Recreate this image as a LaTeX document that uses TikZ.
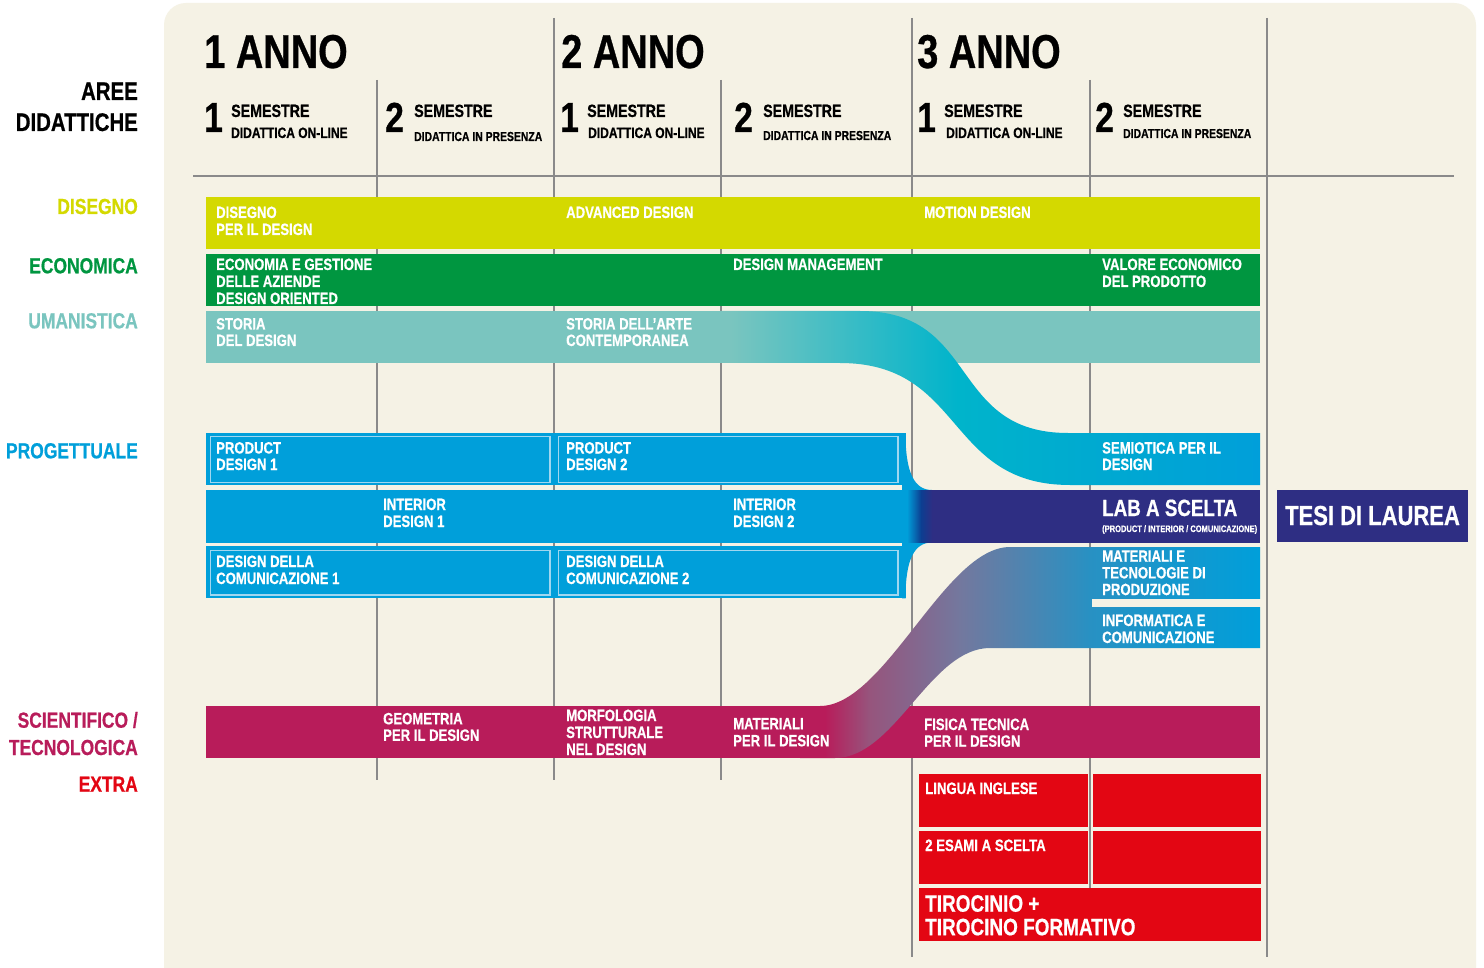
\documentclass[tikz,border=0pt]{standalone}
\usepackage{fontspec}
\setmainfont{Liberation Sans}[FakeStretch=0.8, BoldFeatures={FakeBold=0.6}]
\definecolor{bg}{RGB}{245,242,229}
\definecolor{gridc}{RGB}{138,138,138}
\definecolor{cyel}{RGB}{212,217,0}
\definecolor{cgrn}{RGB}{0,150,64}
\definecolor{cteal}{RGB}{122,197,191}
\definecolor{cblue}{RGB}{0,159,218}
\definecolor{cpurp}{RGB}{46,46,131}
\definecolor{cmag}{RGB}{184,28,90}
\definecolor{cred}{RGB}{227,6,19}
\definecolor{cbox}{RGB}{160,215,240}
\definecolor{ccyanA}{RGB}{0,180,203}
\definecolor{ccyanB}{RGB}{0,170,208}
\definecolor{cmA}{RGB}{150,85,125}
\definecolor{cmB}{RGB}{115,120,158}
\definecolor{cmC}{RGB}{40,145,195}
\definecolor{cnavy}{RGB}{12,62,145}
\pgfdeclarehorizontalshading{tealflow}{100bp}{color(0bp)=(cteal); color(25bp)=(cteal); color(26bp)=(cteal); color(47bp)=(ccyanA); color(59bp)=(ccyanB); color(75bp)=(cblue); color(100bp)=(cblue)}
\pgfdeclarehorizontalshading{magflow}{100bp}{color(0bp)=(cmag); color(25bp)=(cmag); color(27.7bp)=(cmag); color(32.6bp)=(cmA); color(42.4bp)=(cmB); color(56.5bp)=(cmC); color(75bp)=(cblue); color(100bp)=(cblue)}
\pgfdeclarehorizontalshading{labflow}{100bp}{color(0bp)=(cblue); color(25bp)=(cblue); color(50bp)=(cnavy); color(70bp)=(cpurp); color(75bp)=(cpurp); color(100bp)=(cpurp)}
\newcommand{\ml}[1]{\begin{tabular}[t]{@{}l@{}}#1\end{tabular}}
\begin{document}
\begin{tikzpicture}[x=1pt,y=-1pt,
  txt/.style={anchor=base west, inner sep=0pt, text=white, font=\bfseries\fontsize{16.4}{#1}\selectfont},
  txt/.default=17,
  area/.style={anchor=base east, inner sep=0pt, font=\bfseries\fontsize{21.8}{26}\selectfont},
  yr/.style={anchor=base west, inner sep=0pt, font=\bfseries\fontsize{47.5}{48}\selectfont},
  dig/.style={anchor=base west, inner sep=0pt, font=\bfseries\fontsize{42}{42}\selectfont},
  sem/.style={anchor=base west, inner sep=0pt, font=\bfseries\fontsize{17.8}{18}\selectfont},
  did/.style={anchor=base west, inner sep=0pt, font=\bfseries\fontsize{15}{15}\selectfont},
  didp/.style={anchor=base west, inner sep=0pt, font=\bfseries\fontsize{13}{13}\selectfont},
  gridline/.style={draw=gridc, line width=1.5pt},
  ibox/.style={draw=cbox, line width=1.3pt},
]
\useasboundingbox (0,0) rectangle (1484,968);
\fill[white] (0,0) rectangle (1484,968);
\begin{scope}
\clip (0,0) rectangle (1484,968);
\fill[bg, rounded corners=22pt] (164,1000) -- (164,3) -- (1476,3) -- (1476,1000) -- cycle;
\end{scope}

% grid
\draw[gridline] (377,80) -- (377,780);
\draw[gridline] (554,18) -- (554,780);
\draw[gridline] (721,80) -- (721,780);
\draw[gridline] (912,18) -- (912,957);
\draw[gridline] (1090,80) -- (1090,888);
\draw[gridline] (1267,18) -- (1267,957);
\draw[gridline] (193,176) -- (1454,176);

% header
\node[yr] (yr1) at (204,68) {1 ANNO};
\node[yr] (yr2) at (561,68) {2 ANNO};
\node[yr] (yr3) at (917,68) {3 ANNO};
\node[dig] (d11) at (204,132) {1};
\node[dig] (d12) at (385,132) {2};
\node[dig] (d21) at (560,132) {1};
\node[dig] (d22) at (734,132) {2};
\node[dig] (d31) at (917,132) {1};
\node[dig] (d32) at (1095,132) {2};
\node[sem] (s11) at (231,117) {SEMESTRE};
\node[sem] (s12) at (414,117) {SEMESTRE};
\node[sem] (s21) at (587,117) {SEMESTRE};
\node[sem] (s22) at (763,117) {SEMESTRE};
\node[sem] (s31) at (944,117) {SEMESTRE};
\node[sem] (s32) at (1123,117) {SEMESTRE};
\node[did] (t11) at (231,138) {DIDATTICA ON-LINE};
\node[didp] (t12) at (414,141) {DIDATTICA IN PRESENZA};
\node[did] (t21) at (588,138) {DIDATTICA ON-LINE};
\node[didp] (t22) at (763,140) {DIDATTICA IN PRESENZA};
\node[did] (t31) at (946,138) {DIDATTICA ON-LINE};
\node[didp] (t32) at (1123,138) {DIDATTICA IN PRESENZA};

% area labels
\node[area] (aree) at (138,100) {\fontsize{25.5}{30}\selectfont AREE};
\node[area] (didat) at (138,131) {\fontsize{25.5}{30}\selectfont DIDATTICHE};
\node[area, text=cyel] (lds) at (138,214) {DISEGNO};
\node[area, text=cgrn] (lec) at (138,273.3) {ECONOMICA};
\node[area, text=cteal] (lum) at (138,328.3) {UMANISTICA};
\node[area, text=cblue] (lpr) at (138,458.3) {PROGETTUALE};
\node[area, text=cmag] (lsc) at (138,727.7) {SCIENTIFICO /};
\node[area, text=cmag] (lte) at (138,755) {TECNOLOGICA};
\node[area, text=cred] (lex) at (138,791.7) {EXTRA};

% bars
\fill[cyel] (206,197) rectangle (1260,249);
\fill[cgrn] (206,254) rectangle (1260,306);
\fill[cteal] (206,311) rectangle (1260,363);
\fill[cblue] (206,433.3) rectangle (905.5,485);
\fill[cblue] (206,490) rectangle (902.5,542.5);
\fill[cblue] (206,546) rectangle (905.5,598.3);
\fill[cpurp] (1277,490) rectangle (1468,542);
\fill[cmag] (206,706) rectangle (1260,758);
\fill[cred] (919,774) rectangle (1088,827);
\fill[cred] (1093,774) rectangle (1261,827);
\fill[cred] (919,831) rectangle (1088,884);
\fill[cred] (1093,831) rectangle (1261,884);
\fill[cred] (919,888) rectangle (1261,941);

% flows
\shade[shading=tealflow] (720,311) -- (860,311) .. controls (980,311) and (948,433) .. (1068,433) -- (1260,433) -- (1260,485) -- (1070,485) .. controls (945,485) and (965,363) .. (840,363) -- (720,363) -- cycle;
\shade[shading=magflow] (800,706) -- (820,706) .. controls (885,706) and (945,547) .. (1010,547) -- (1260,547) -- (1260,648) -- (990,648) .. controls (930,648) and (895,758) .. (835,758) -- (800,758) -- cycle;
\fill[cblue] (902,433.3) -- (905.5,433.3) .. controls (905.5,472) and (914,490) .. (932,490) -- (932,542.5) .. controls (914,542.5) and (905.5,560) .. (905.5,598.3) -- (902,598.3) -- cycle;
\shade[shading=labflow] (907,490) rectangle (935,542.5);
\fill[cpurp] (933,490) rectangle (1260,542.5);
\fill[bg] (1092,598.5) rectangle (1261,606.5);

% inner boxes
\draw[ibox] (210.6,436.7) rectangle (550,482.3);
\draw[ibox] (558.6,436.7) rectangle (898,482.3);
\draw[ibox] (210.6,550.7) rectangle (550,595);
\draw[ibox] (558.6,550.7) rectangle (898,595);

% bar texts
\node[txt] (disegno) at (216,218) {\ml{DISEGNO\\PER IL DESIGN}};
\node[txt] (advanced) at (566,218) {ADVANCED DESIGN};
\node[txt] (motion) at (924,218) {MOTION DESIGN};
\node[txt] (economia) at (216,270) {\ml{ECONOMIA E GESTIONE\\DELLE AZIENDE\\DESIGN ORIENTED}};
\node[txt] (management) at (733,270) {DESIGN MANAGEMENT};
\node[txt] (valore) at (1102,270) {\ml{VALORE ECONOMICO\\DEL PRODOTTO}};
\node[txt=16.5] (storia) at (216,329.5) {\ml{STORIA\\DEL DESIGN}};
\node[txt=16.5] (storiaarte) at (566,329.5) {\ml{STORIA DELL’ARTE\\CONTEMPORANEA}};
\node[txt=16.5] (pd1) at (216,453.5) {\ml{PRODUCT\\DESIGN 1}};
\node[txt=16.5] (pd2) at (566,453.5) {\ml{PRODUCT\\DESIGN 2}};
\node[txt=17] (id1) at (383,510) {\ml{INTERIOR\\DESIGN 1}};
\node[txt=17] (id2) at (733,510) {\ml{INTERIOR\\DESIGN 2}};
\node[txt=17] (dc1) at (216,567) {\ml{DESIGN DELLA\\COMUNICAZIONE 1}};
\node[txt=17] (dc2) at (566,567) {\ml{DESIGN DELLA\\COMUNICAZIONE 2}};
\node[txt=16.5] (semiotica) at (1102,453.5) {\ml{SEMIOTICA PER IL\\DESIGN}};
\node[txt, font=\bfseries\fontsize{23.5}{24}\selectfont] (lab) at (1102,516) {LAB A SCELTA};
\node[txt, font=\bfseries\fontsize{9.4}{10}\selectfont] (labsub) at (1102,532) {(PRODUCT / INTERIOR / COMUNICAZIONE)};
\node[anchor=base, inner sep=0pt, text=white, font=\bfseries\fontsize{27.5}{28}\selectfont] (tesi) at (1372.5,525) {TESI DI LAUREA};
\node[txt=16.7] (materiali3) at (1102,561.7) {\ml{MATERIALI E\\TECNOLOGIE DI\\PRODUZIONE}};
\node[txt=17] (informatica) at (1102,626) {\ml{INFORMATICA E\\COMUNICAZIONE}};
\node[txt=16.5] (geometria) at (383,724.3) {\ml{GEOMETRIA\\PER IL DESIGN}};
\node[txt=17] (morfologia) at (566,721) {\ml{MORFOLOGIA\\STRUTTURALE\\NEL DESIGN}};
\node[txt=17] (materiali) at (733,729.3) {\ml{MATERIALI\\PER IL DESIGN}};
\node[txt=16.7] (fisica) at (924,730) {\ml{FISICA TECNICA\\PER IL DESIGN}};
\node[txt, font=\bfseries\fontsize{16.5}{17}\selectfont] (lingua) at (925,794) {LINGUA INGLESE};
\node[txt, font=\bfseries\fontsize{16.5}{17}\selectfont] (esami) at (925,851) {2 ESAMI A SCELTA};
\node[txt, font=\bfseries\fontsize{23.7}{23.3}\selectfont] (tirocinio) at (925,911.7) {\ml{TIROCINIO +\\TIROCINO FORMATIVO}};
\end{tikzpicture}
\end{document}
